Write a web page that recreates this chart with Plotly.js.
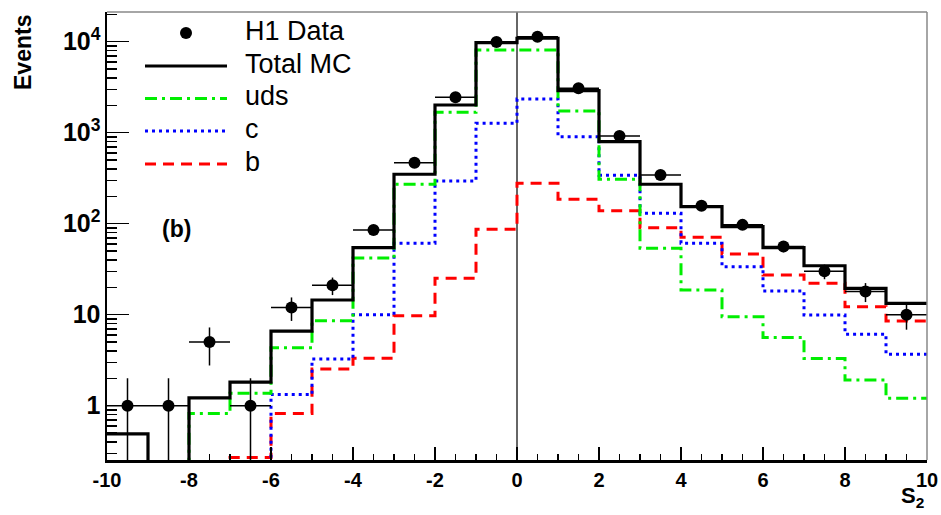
<!DOCTYPE html>
<html>
<head>
<meta charset="utf-8">
<script src="https://cdn.plot.ly/plotly-3.0.1.min.js"></script>
<style>html,body{margin:0;padding:0;background:#fff;}#chart{width:941px;height:515px;}</style>
</head>
<body>
<div id="chart"></div>
<script>
// ---- data ----
const binEdges = [-10,-9,-8,-7,-6,-5,-4,-3,-2,-1,0,1,2,3,4,5,6,7,8,9,10];
const binCenters = [-9.5,-8.5,-7.5,-6.5,-5.5,-4.5,-3.5,-2.5,-1.5,-0.5,0.5,1.5,2.5,3.5,4.5,5.5,6.5,7.5,8.5,9.5];
const h1Data  = [1, 1, 5, 1, 12, 21, 85, 468, 2450, 9900, 11300, 3075, 920, 343, 157, 97, 56, 30, 18, 10];
const totalMC = [0.49, 0, 1.22, 1.81, 6.6, 14.5, 54.5, 349, 2015, 9750, 10900, 2895, 796, 271, 154, 92.7, 54.5, 34.5, 19.5, 13.3];
const udsMC   = [0, 0, 0.82, 1.37, 4.34, 8.6, 42, 271, 1675, 8100, 8100, 1730, 307, 53.7, 18.7, 9.5, 5.6, 3.3, 1.92, 1.21];
const cMC     = [0, 0, 0, 0, 1.33, 3.26, 10, 61, 295, 1268, 2345, 904, 340, 130, 61, 33.7, 18.2, 9.9, 6.1, 3.67];
const bMC     = [0, 0, 0, 0.27, 0.82, 2.53, 3.32, 9.7, 25.1, 86.8, 278, 185, 139, 90.4, 71, 46.5, 27.3, 22.1, 12.2, 8.5];
const xTickVals = [-10,-8,-6,-4,-2,0,2,4,6,8,10];
const xTickText = ["-10","-8","-6","-4","-2","0","2","4","6","8","10"];
const legendLabels = ["H1 Data","Total MC","uds","c","b"];

// ---- styling ----
const FLOOR = 0.01; // empty bins drawn below the axis minimum (log scale)
function stepY(vals){
  const v = vals.map(d => d > 0 ? d : FLOOR);
  return v.concat([v[v.length-1]]);
}
const styles = {
  total: {color:'#000000', width:3.2, dash:'solid'},
  uds:   {color:'#00ee00', width:3, dash:'12px,5px,3px,5px'},
  c:     {color:'#0000ff', width:3, dash:'3px,4px'},
  b:     {color:'#ff0000', width:3, dash:'11px,7px'}
};
function stepTrace(vals, st, name){
  return {type:'scatter', mode:'lines', x:binEdges, y:stepY(vals), name:name,
          line:{shape:'hv', color:st.color, width:st.width, dash:st.dash}, hoverinfo:'skip'};
}
const traces = [
  stepTrace(bMC, styles.b, 'b'),
  stepTrace(cMC, styles.c, 'c'),
  stepTrace(udsMC, styles.uds, 'uds'),
  stepTrace(totalMC, styles.total, 'Total MC'),
  {type:'scatter', mode:'markers', x:binCenters, y:h1Data, name:'H1 Data',
   marker:{color:'#000', size:12},
   error_y:{type:'sqrt', color:'#000', thickness:1.5, width:0},
   error_x:{type:'constant', value:0.5, color:'#000', thickness:1.5, width:0}}
];

// ---- manual ROOT-style legend (paper coordinates) ----
const W = 941, H = 515, mL = 107, mR = 14, mT = 12, mB = 55;
const pw = W - mL - mR, ph = H - mT - mB;
const px2x = p => (p - mL) / pw;
const px2y = p => (H - mB - p) / ph;
const legRowsY = [33, 66, 98.5, 131, 164];
const legStyles = [null, styles.total, styles.uds, styles.c, styles.b];
const shapes = [
  {type:'line', xref:'paper', yref:'paper', x0:0, x1:1, y0:1, y1:1, line:{color:'#888', width:1.5}},
  {type:'line', xref:'paper', yref:'paper', x0:1, x1:1, y0:0, y1:1, line:{color:'#888', width:1.5}}
];
const annotations = [];
legendLabels.forEach((lab, i) => {
  const yy = px2y(legRowsY[i]);
  if (i === 0) {
    shapes.push({type:'circle', xref:'paper', yref:'paper', xsizemode:'pixel', ysizemode:'pixel',
      xanchor:px2x(186), yanchor:yy, x0:-6, x1:6, y0:-6, y1:6, fillcolor:'#000', line:{color:'#000', width:0}});
  } else {
    const st = legStyles[i];
    shapes.push({type:'line', xref:'paper', yref:'paper', x0:px2x(145), x1:px2x(227), y0:yy, y1:yy,
      line:{color:st.color, width:st.width, dash:st.dash}});
  }
  annotations.push({xref:'paper', yref:'paper', x:px2x(243), y:px2y(legRowsY[i]-2), xanchor:'left', yanchor:'middle',
    text:lab, showarrow:false, font:{family:'Liberation Sans, Arial, sans-serif', size:27, color:'#000'}});
});
annotations.push({xref:'paper', yref:'paper', x:px2x(176), y:px2y(229), xanchor:'center', yanchor:'middle',
  text:'(b)', showarrow:false, font:{family:'Liberation Sans, Arial, sans-serif', size:23, color:'#000', weight:'bold'}});
annotations.push({xref:'paper', yref:'paper', x:px2x(23), y:px2y(53), xanchor:'center', yanchor:'middle', textangle:-90,
  text:'Events', showarrow:false, font:{family:'Liberation Sans, Arial, sans-serif', size:23, color:'#000', weight:'bold'}});
annotations.push({xref:'paper', yref:'paper', x:px2x(912), y:px2y(497), xanchor:'center', yanchor:'middle',
  text:'S<sub>2</sub>', showarrow:false, font:{family:'Liberation Sans, Arial, sans-serif', size:22, color:'#000', weight:'bold'}});

const tickFont = {family:'Liberation Sans, Arial, sans-serif', size:20, color:'#000', weight:'bold'};
const layout = {
  width:W, height:H, margin:{l:mL, r:mR, t:mT, b:mB, pad:0},
  paper_bgcolor:'#fff', plot_bgcolor:'#fff', showlegend:false,
  xaxis:{range:[-10,10], tickmode:'array', tickvals:xTickVals, ticktext:xTickText,
    ticks:'inside', ticklen:13, tickwidth:1.5, tickcolor:'#000',
    showline:true, linecolor:'#000', linewidth:2.5, showgrid:false,
    zeroline:true, zerolinecolor:'#666', zerolinewidth:1.2,
    minor:{tickmode:'linear', tick0:0, dtick:0.5, ticks:'inside', ticklen:6, tickwidth:1.5, tickcolor:'#000', showgrid:false},
    tickfont:tickFont},
  yaxis:{type:'log', range:[-0.597, 4.326], dtick:1, exponentformat:'power',
    ticks:'inside', ticklen:22, tickwidth:1.5, tickcolor:'#000',
    showline:true, linecolor:'#000', linewidth:2.5, showgrid:false, zeroline:false,
    minor:{dtick:'D1', ticks:'inside', ticklen:10, tickwidth:1.5, tickcolor:'#000', showgrid:false},
    tickfont:tickFont},
  shapes:shapes, annotations:annotations
};
Plotly.newPlot('chart', traces, layout, {staticPlot:true, displayModeBar:false});
</script>
</body>
</html>
